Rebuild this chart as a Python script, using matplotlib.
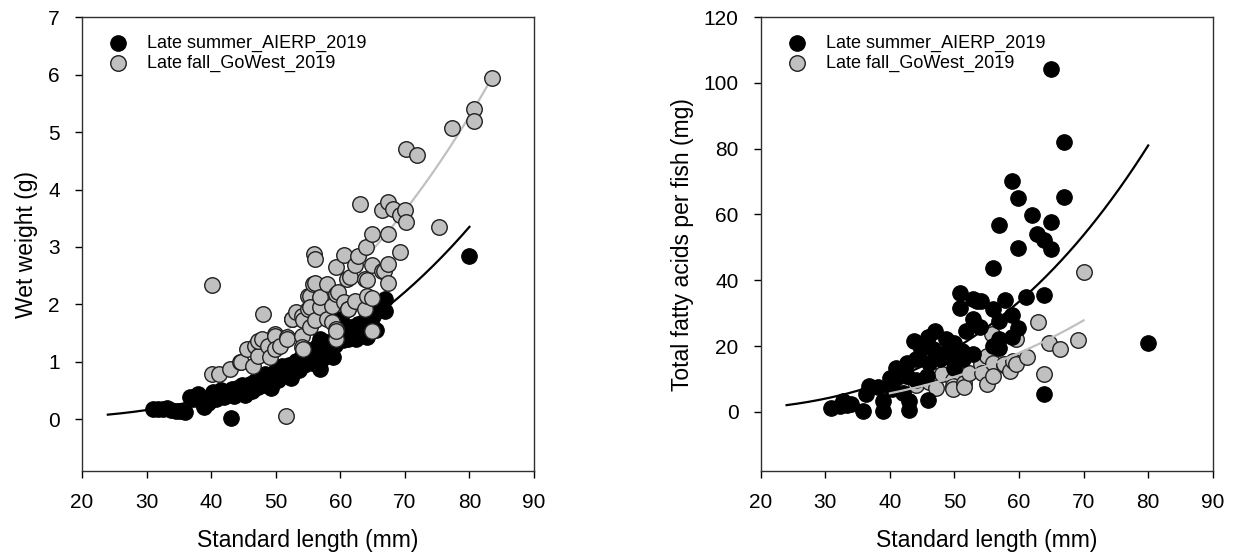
import matplotlib
matplotlib.use("Agg")
import matplotlib.pyplot as plt
import numpy as np

plt.rcParams["font.family"] = ["Liberation Sans", "DejaVu Sans"]

lab_summer = "Late summer_AIERP_2019"
lab_fall = "Late fall_GoWest_2019"

# left panel : wet weight
sl_summer = [31.0, 31.8, 32.5, 33.2, 33.8, 34.5, 35.2, 36.0, 36.7, 37.2, 38.0, 38.5, 38.9, 39.5,
             40.0, 40.3, 40.8, 41.2, 41.6, 42.0, 42.5, 43.0, 43.2, 43.5, 44.0, 44.4, 44.8, 45.2,
             45.5, 46.0, 46.3, 46.8, 47.2, 47.6, 48.0, 48.4, 48.8, 49.2, 49.6, 50.0, 50.3, 50.7,
             51.0, 51.5, 52.0, 52.3, 52.8, 53.2, 53.6, 54.0, 54.4, 54.8, 55.2, 55.6, 56.0, 56.5,
             56.8, 56.8, 57.2, 57.6, 58.0, 58.5, 58.9, 59.2, 59.6, 60.1, 60.4, 60.8, 61.2, 61.6,
             62.0, 62.5, 62.8, 63.3, 63.5, 64.1, 64.5, 64.9, 64.9, 65.0, 65.5, 66.0, 67.0, 67.0, 80.0]
ww_summer = [0.17, 0.18, 0.17, 0.19, 0.16, 0.15, 0.14, 0.12, 0.38, 0.36, 0.44, 0.31, 0.22, 0.28,
             0.41, 0.47, 0.35, 0.44, 0.51, 0.38, 0.46, 0.02, 0.52, 0.41, 0.55, 0.47, 0.60, 0.42,
             0.52, 0.62, 0.50, 0.66, 0.57, 0.72, 0.60, 0.78, 0.66, 0.55, 0.74, 0.85, 0.68, 0.75,
             0.92, 0.80, 0.95, 0.72, 0.88, 1.02, 0.85, 1.10, 0.95, 1.08, 1.20, 0.98, 1.15, 1.30,
             1.40, 0.87, 1.05, 1.22, 1.35, 1.15, 1.08, 1.30, 1.45, 1.75, 1.38, 1.52, 1.40, 1.60,
             1.45, 1.40, 1.65, 1.55, 1.69, 1.43, 1.75, 1.63, 1.80, 1.80, 1.55, 1.90, 2.09, 1.89, 2.85]

sl_fall = [40.1, 41.2, 40.2, 42.9, 44.5, 44.7, 45.5, 46.5, 46.8, 47.3, 47.3, 47.8, 48.1, 48.8,
           49.1, 49.9, 49.9, 49.9, 50.7, 51.6, 51.7, 51.7, 52.5, 52.5, 53.2, 54.0, 54.0, 54.0,
           54.3, 54.3, 55.0, 55.0, 55.3, 55.3, 55.3, 55.8, 55.9, 56.1, 56.1, 56.1, 56.9, 56.9,
           57.9, 57.9, 58.7, 58.7, 59.4, 59.4, 59.4, 59.4, 59.4, 59.7, 60.5, 60.5, 61.0, 61.2,
           61.2, 61.5, 62.3, 62.3, 62.8, 63.1, 63.8, 63.8, 64.0, 64.1, 64.1, 64.9, 64.9, 64.9,
           64.9, 66.4, 66.4, 66.7, 67.4, 67.4, 67.4, 67.4, 68.2, 69.2, 69.3, 70.0, 70.2, 70.2,
           71.9, 75.3, 77.3, 80.7, 80.7, 83.5]
ww_fall = [0.79, 0.79, 2.34, 0.87, 0.99, 0.99, 1.22, 0.93, 1.28, 1.10, 1.37, 1.40, 1.83, 1.28,
           1.08, 1.48, 1.45, 1.22, 1.28, 0.06, 1.43, 1.40, 1.75, 1.75, 1.86, 1.45, 1.25, 1.80,
           1.72, 1.22, 1.92, 2.15, 1.60, 2.15, 1.95, 2.36, 2.87, 1.72, 2.38, 2.79, 1.95, 2.12,
           2.36, 1.75, 1.98, 1.69, 2.18, 2.65, 1.57, 1.40, 1.54, 2.21, 2.86, 2.04, 2.44, 1.92,
           1.92, 2.48, 2.06, 2.68, 2.85, 3.75, 2.44, 1.92, 3.00, 2.15, 2.42, 3.23, 2.11, 2.68,
           1.54, 2.59, 3.64, 2.59, 3.78, 3.23, 2.71, 2.38, 3.66, 2.91, 3.55, 3.64, 3.43, 4.71,
           4.60, 3.34, 5.08, 5.40, 5.19, 5.95]

# right panel : total fatty acids
sl_fa_summer = [30.9, 32.2, 32.7, 33.3, 34.0, 35.8, 36.3, 36.8, 38.2, 38.9, 38.9, 40.0, 40.4, 41.0,
                41.0, 42.0, 42.6, 42.6, 43.0, 43.0, 43.8, 44.1, 44.1, 44.8, 45.7, 45.9, 45.9, 46.1,
                46.6, 47.0, 47.7, 48.7, 48.5, 49.5, 50.0, 50.0, 50.9, 50.9, 51.3, 51.8, 51.2, 52.8,
                52.8, 52.8, 53.5, 53.9, 54.1, 55.9, 55.9, 55.9, 56.9, 56.9, 56.9, 56.9, 57.9, 58.9,
                58.9, 58.9, 59.9, 59.9, 59.9, 61.0, 62.0, 62.8, 63.9, 63.9, 63.9, 64.9, 64.9, 64.9,
                67.0, 67.0, 79.9]
fa_summer = [1.2, 1.7, 3.2, 2.0, 2.5, 0.3, 5.3, 7.8, 7.6, 3.2, 0.3, 10.4, 6.8, 10.4,
             13.4, 5.8, 14.9, 10.9, 3.2, 0.5, 21.5, 15.9, 9.8, 19.0, 10.9, 22.6, 3.7, 14.9,
             19.0, 24.6, 15.9, 22.0, 18.0, 16.5, 21.0, 13.4, 36.1, 31.5, 15.9, 24.6, 18.5, 34.2,
             28.1, 17.5, 33.7, 25.9, 33.7, 43.7, 31.4, 20.0, 56.8, 27.6, 22.0, 19.5, 34.0, 70.3,
             29.4, 22.6, 65.0, 49.7, 25.6, 34.9, 59.8, 54.1, 52.3, 35.5, 5.3, 104.4, 57.6, 49.5,
             82.0, 65.2, 20.8]

sl_fa_fall = [42.0, 44.0, 46.0, 47.2, 47.2, 48.0, 49.7, 49.7, 49.7, 51.5, 51.5, 52.3, 54.1, 54.3,
              55.0, 55.0, 55.8, 55.9, 55.9, 57.6, 57.7, 58.6, 59.0, 59.5, 59.5, 61.2, 63.0, 63.9,
              64.6, 66.4, 69.2, 70.0]
fa_fall = [6.5, 8.0, 9.0, 10.9, 7.3, 11.5, 9.8, 7.8, 6.8, 8.8, 7.6, 11.9, 14.4, 11.9,
           17.0, 8.3, 23.6, 14.9, 10.9, 14.1, 14.4, 12.4, 15.4, 14.4, 22.0, 16.8, 27.3, 11.4,
           20.8, 19.2, 21.8, 42.4]

fit_ww_summer = (3.35, 80.0, 3.1, 24.0, 80.0)
fit_ww_fall = (5.95, 83.5, 2.8, 40.0, 83.5)
fit_fa_summer = (81.0, 80.0, 3.07, 24.0, 80.0)
fit_fa_fall = (27.8, 70.0, 2.86, 40.0, 70.0)

gray = "#c0c0c0"
ms = 125


def fit_line(ax, fit, color, z):
    a, l0, b, lmin, lmax = fit
    xx = np.linspace(lmin, lmax, 200)
    ax.plot(xx, a * (xx / l0) ** b, color=color, lw=1.6, zorder=z)


def style(ax, ylab, handles, labels):
    ax.set_xlim(20, 90)
    ax.set_xticks(range(20, 91, 10))
    ax.set_xlabel("Standard length (mm)", fontsize=16.5, labelpad=12)
    ax.set_ylabel(ylab, fontsize=16.5, labelpad=7)
    ax.tick_params(direction="out", length=5, width=1, labelsize=15, pad=11)
    for s in ax.spines.values():
        s.set_linewidth(1.0)
        s.set_color("#303030")
    ax.legend(handles, labels, loc="upper left", bbox_to_anchor=(0.06, 0.962), frameon=False,
              fontsize=13, handlelength=1.0, handletextpad=1.1,
              labelspacing=0.15, borderaxespad=0, borderpad=0, scatterpoints=1)


fig = plt.figure(figsize=(12.33, 5.56), dpi=100)
ax1 = fig.add_axes([0.0665, 0.153, 0.3666, 0.816])
ax2 = fig.add_axes([0.617, 0.153, 0.3666, 0.816])

fit_line(ax1, fit_ww_summer, "black", 1)
fit_line(ax1, fit_ww_fall, gray, 1)
s1 = ax1.scatter(sl_summer, ww_summer, s=ms, color="black", edgecolors="black", lw=0.8, zorder=2)
f1 = ax1.scatter(sl_fall, ww_fall, s=ms, color=gray, edgecolors="#202020", lw=1.0, zorder=3)
ax1.set_ylim(-0.9, 7)
ax1.set_yticks(range(0, 8))
style(ax1, "Wet weight (g)", [s1, f1], [lab_summer, lab_fall])

f2 = ax2.scatter(sl_fa_fall, fa_fall, s=ms, color=gray, edgecolors="#202020", lw=1.0, zorder=2)
s2 = ax2.scatter(sl_fa_summer, fa_summer, s=ms, color="black", edgecolors="black", lw=0.8, zorder=3)
fit_line(ax2, fit_fa_summer, "black", 4)
fit_line(ax2, fit_fa_fall, gray, 4)
ax2.set_ylim(-18, 120)
ax2.set_yticks(range(0, 121, 20))
style(ax2, "Total fatty acids per fish (mg)", [s2, f2], [lab_summer, lab_fall])

fig.savefig("out.png", dpi=100)
